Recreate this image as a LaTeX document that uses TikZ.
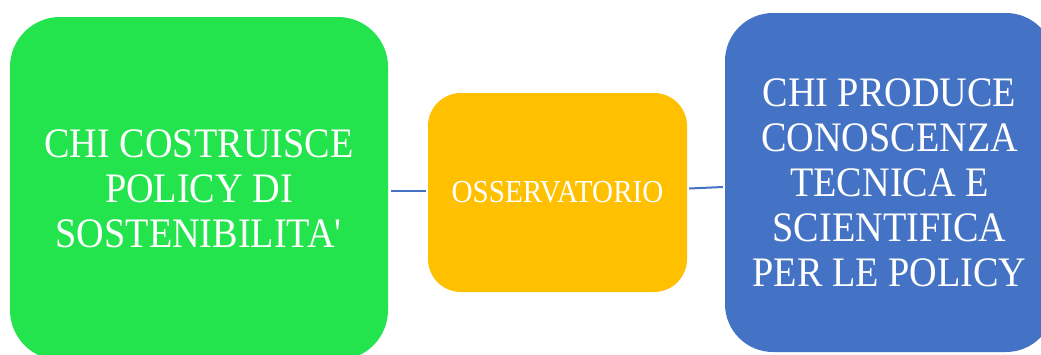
\documentclass[tikz,border=0pt]{standalone}
\usepackage{fontspec}
\setmainfont{Liberation Serif}[FakeStretch=0.91]
\definecolor{boxgreen}{RGB}{35,228,76}
\definecolor{boxyellow}{RGB}{255,192,0}
\definecolor{boxblue}{RGB}{68,114,196}
\begin{document}
\begin{tikzpicture}[x=1pt,y=-1pt,
  card/.style={rectangle, inner sep=0pt, text=white, align=center},
  bigtext/.style={font=\fontsize{42}{45}\selectfont},
  link/.style={draw=boxblue, line width=2pt}]
\useasboundingbox[fill=white] (0,0) rectangle (1041,354);
\node[card, bigtext, fill=boxgreen, rounded corners=50pt, minimum width=378pt, minimum height=343pt] (pol) at (199,188.5)
  {CHI COSTRUISCE\\POLICY DI\\SOSTENIBILITA\textquotesingle};
\node[card, fill=boxyellow, rounded corners=33pt, minimum width=259pt, minimum height=199pt, font=\fontsize{32}{36}\selectfont] (oss) at (557.5,192.5)
  {OSSERVATORIO};
\node[card, bigtext, fill=boxblue, rounded corners=48pt, minimum width=329pt, minimum height=339pt] (sci) at (889.5,182.5)
  {CHI PRODUCE\\CONOSCENZA\\TECNICA E\\SCIENTIFICA\\PER LE POLICY};
\draw[link] ([xshift=3pt,yshift=-2.5pt]pol.east) -- ([xshift=-2pt,yshift=1.5pt]oss.west);
\draw[link] ([xshift=2pt,yshift=4pt]oss.east) -- ([xshift=-2pt,yshift=-4.5pt]sci.west);
\end{tikzpicture}
\end{document}
